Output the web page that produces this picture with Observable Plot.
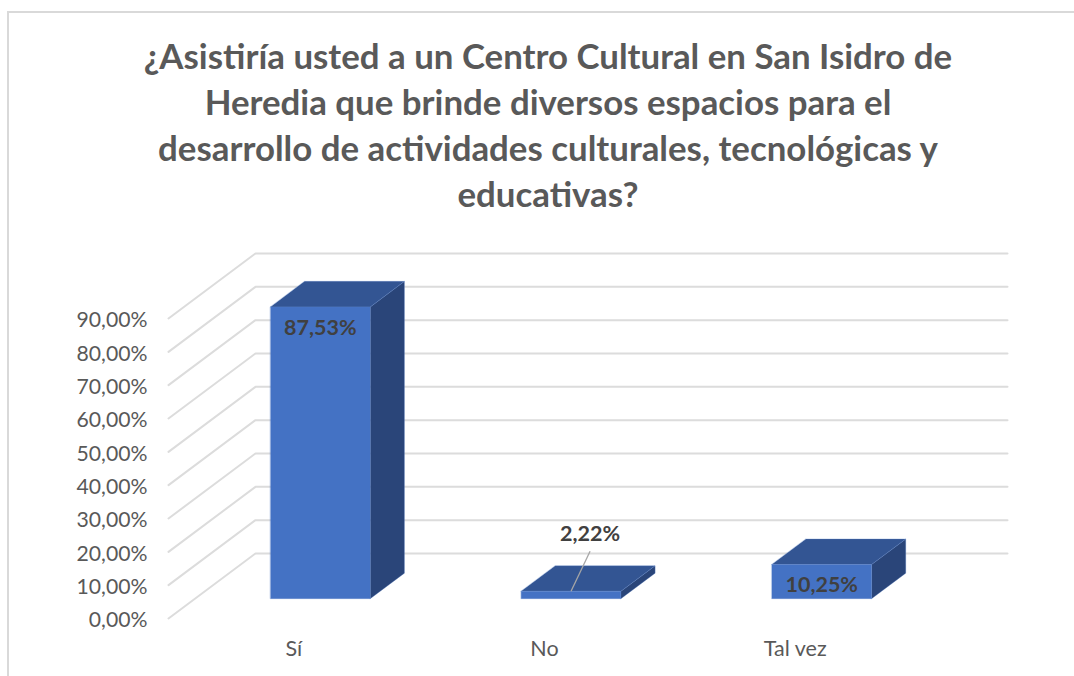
<!DOCTYPE html>
<html lang="es">
<head>
<meta charset="utf-8">
<script src="https://cdn.jsdelivr.net/npm/d3@7"></script>
<script src="https://cdn.jsdelivr.net/npm/@observablehq/plot@0.6"></script>
<style>
  html, body { margin: 0; padding: 0; background: #fff; }
  body { width: 1074px; height: 676px; overflow: hidden; font-family: Lato, "Open Sans", sans-serif; font-variant-ligatures: none; }
  #frame { position: absolute; left: 7px; top: 11px; width: 1067px; height: 665px;
           border-left: 2px solid #d9d9d9; border-top: 2px solid #d9d9d9; box-sizing: border-box; }
  #title { position: absolute; left: 0; top: 33px; width: 1096px; text-align: center;
           font: 700 34.85px/46px Lato, sans-serif; color: #595959; white-space: nowrap; }
  #chart { position: absolute; left: 0; top: 240px; }
  svg { display: block; overflow: visible; font-variant-ligatures: none; }
</style>
</head>
<body>
<div id="frame"></div>
<div id="title">¿Asistiría usted a un Centro Cultural en San Isidro de<br>Heredia que brinde diversos espacios para el<br>desarrollo de actividades culturales, tecnológicas y<br>educativas?</div>
<div id="chart"></div>
<script>
const categories = ["Sí", "No", "Tal vez"];
const values = [87.53, 2.22, 10.25];
const valueLabels = ["87,53%", "2,22%", "10,25%"];
const gridTicks = [0, 10, 20, 30, 40, 50, 60, 70, 80, 90];

// Oblique projection: depth d (0 front, 1 back wall) shifts both data coordinates.
const depthX = 87 / 250.67;
const depthY = 65 / 3.3333;
const project = (c, v, d) => ({x: c + depthX * d, y: v + depthY * d});

const halfWidth = 0.199, d0 = 0.305, d1 = 0.698;

const grid = gridTicks.flatMap((v) =>
  [[0, 0], [0, 1], [3, 1]].map(([c, d]) => ({...project(c, v, d), v})));

const face = (key, pts) => pts.map(([c, v, d]) => ({...project(c, v, d), key}));
const frontFaces = [], topFaces = [], sideFaces = [];
values.forEach((v, i) => {
  const a = i + 0.5 - halfWidth, b = i + 0.5 + halfWidth;
  frontFaces.push(...face(i, [[a, 0, d0], [b, 0, d0], [b, v, d0], [a, v, d0]]));
  topFaces.push(...face(i, [[a, v, d0], [b, v, d0], [b, v, d1], [a, v, d1]]));
  sideFaces.push(...face(i, [[b, 0, d0], [b, 0, d1], [b, v, d1], [b, v, d0]]));
});

const fmt = (d) => d.toFixed(2).replace(".", ",") + "%";
const barLabels = categories.map((c, i) => ({
  ...project(i + 0.5, values[i], d0), label: valueLabels[i], i
}));
const inside = barLabels.filter((d) => d.i !== 1);
const outside = barLabels.filter((d) => d.i === 1);
const leader = outside.map((d) => ({x1: d.x, y1: d.y, x2: d.x + 0.076, y2: d.y + 12}));

const faceMark = (data, fill) => Plot.line(data, {
  x: "x", y: "y", z: "key", curve: "linear-closed", fill,
  stroke: "#5b82c9", strokeWidth: 0.5, strokeOpacity: 0.6
});

const plot = Plot.plot({
  width: 1074,
  height: 436,
  marginLeft: 168,
  marginRight: 67,
  marginTop: 13,
  marginBottom: 58,
  x: {domain: [0, 3 + depthX], axis: null},
  y: {domain: [0, 90 + depthY], axis: null},
  style: {fontFamily: "Lato, sans-serif", background: "transparent", overflow: "visible"},
  marks: [
    Plot.line(grid, {x: "x", y: "y", z: "v", stroke: "#dcdcdc", strokeWidth: 2}),
    Plot.axisY({
      ticks: gridTicks, tickFormat: fmt, tickSize: 0, tickPadding: 21, dy: 2,
      label: null, anchor: "left", fontSize: 21.2, color: "#595959"
    }),
    Plot.text(categories, {
      x: (d, i) => i + 0.5, y: () => 0, text: (d) => d, dy: 31,
      fontSize: 21.5, fill: "#595959"
    }),
    faceMark(sideFaces, "#2a4579"),
    faceMark(topFaces, "#335593"),
    faceMark(frontFaces, "#4472c4"),
    Plot.link(leader, {x1: "x1", y1: "y1", x2: "x2", y2: "y2", stroke: "#a6a6a6", strokeWidth: 1.3}),
    Plot.text(inside, {
      x: "x", y: "y", text: "label", dy: 21,
      fontSize: 21.5, fontWeight: 700, fill: "#404040"
    }),
    Plot.text(outside, {
      x: (d) => d.x + 0.076, y: (d) => d.y + 12, text: "label", dy: -17,
      fontSize: 21.5, fontWeight: 700, fill: "#404040"
    })
  ]
});
document.getElementById("chart").append(plot);
</script>
</body>
</html>
